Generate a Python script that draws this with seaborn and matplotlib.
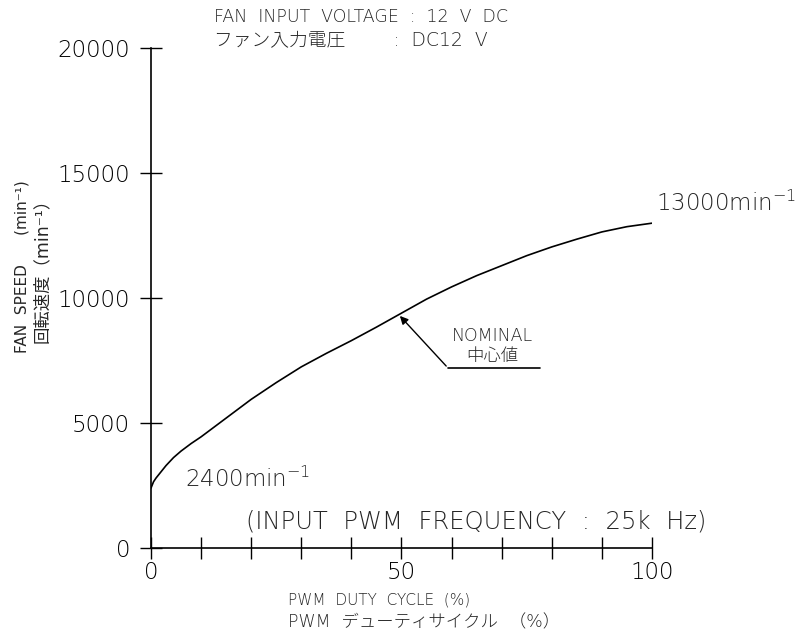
import seaborn as sns
import matplotlib.pyplot as plt
import pandas as pd

# data
duty = [0, 0.5, 1, 2, 3, 4.5, 6, 8, 10, 15, 20, 25, 30, 35, 40, 45, 50, 55,
        60, 65, 70, 75, 80, 85, 90, 95, 100]
speed = [2400, 2650, 2800, 3050, 3300, 3620, 3880, 4180, 4450, 5200, 5950, 6620, 7250,
         7790, 8300, 8840, 9400, 9960, 10450, 10900, 11300, 11700, 12050, 12360,
         12650, 12860, 13000]
x_ticks = list(range(0, 101, 10))
x_labels = ['0', '', '', '', '', '50', '', '', '', '', '100']
y_ticks = [0, 5000, 10000, 15000, 20000]

df = pd.DataFrame({'duty': duty, 'speed': speed})

sns.set_style("ticks")
plt.rcParams['font.family'] = ['DejaVu Sans', 'Noto Sans CJK JP']
plt.rcParams['font.weight'] = 'light'

fig = plt.figure(figsize=(7.99, 6.35), dpi=100)
ax = fig.add_axes([0.189, 0.137, 0.627, 0.787])

sns.lineplot(data=df, x='duty', y='speed', color='black', linewidth=1.2, ax=ax)

ax.set_xlim(0, 100)
ax.set_ylim(0, 20000)
ax.set_xticks(x_ticks)
ax.set_xticklabels(x_labels)
ax.set_yticks(y_ticks)
ax.tick_params(direction='inout', length=16, width=1, labelsize=16.5, colors='black')
ax.tick_params(axis='x', pad=1)
ax.tick_params(axis='y', pad=7)
sns.despine(ax=ax)
for s in ['left', 'bottom']:
    ax.spines[s].set_linewidth(1.2)
    ax.spines[s].set_color('black')
ax.set_xlabel('')
ax.set_ylabel('')

# annotations
ax.text(6.8, 2750, '2400min$^{-1}$', fontsize=16.5, ha='left', va='center')
ax.text(100.8, 13800, '13000min$^{-1}$', fontsize=16.5, ha='left', va='center')
ax.text(65, 1050, '(INPUT  PWM  FREQUENCY  :  25k  Hz)', fontsize=17.5, ha='center', va='center')

ax.plot([59.3, 77.6], [7200, 7200], color='black', linewidth=1.2)
ax.annotate('', xy=(49.3, 9370), xytext=(59.3, 7200),
            arrowprops=dict(arrowstyle='-|>', color='black', lw=1, mutation_scale=12))
ax.text(68.2, 8500, 'NOMINAL', fontsize=12.5, ha='center', va='center')
ax.text(68.2, 7680, '中心値', fontsize=12.5, ha='center', va='center')

# titles and axis labels
fig.text(0.268, 0.974, 'FAN  INPUT  VOLTAGE  :  12  V  DC', fontsize=12.5, ha='left', va='center')
fig.text(0.268, 0.938, 'ファン入力電圧        :  DC12  V', fontsize=13.5, ha='left', va='center')
fig.text(0.027, 0.58, 'FAN  SPEED      (min⁻¹)', fontsize=11, fontweight='normal',
         rotation=90, ha='center', va='center')
fig.text(0.052, 0.58, '回転速度（min⁻¹）', fontsize=12.5, fontweight='normal',
         rotation=90, ha='center', va='center')
fig.text(0.36, 0.055, 'PWM  DUTY  CYCLE  (%)', fontsize=11, ha='left', va='center')
fig.text(0.36, 0.020, 'PWM  デューティサイクル  （%）', fontsize=12.5, ha='left', va='center')

plt.savefig('out.png', dpi=100)
